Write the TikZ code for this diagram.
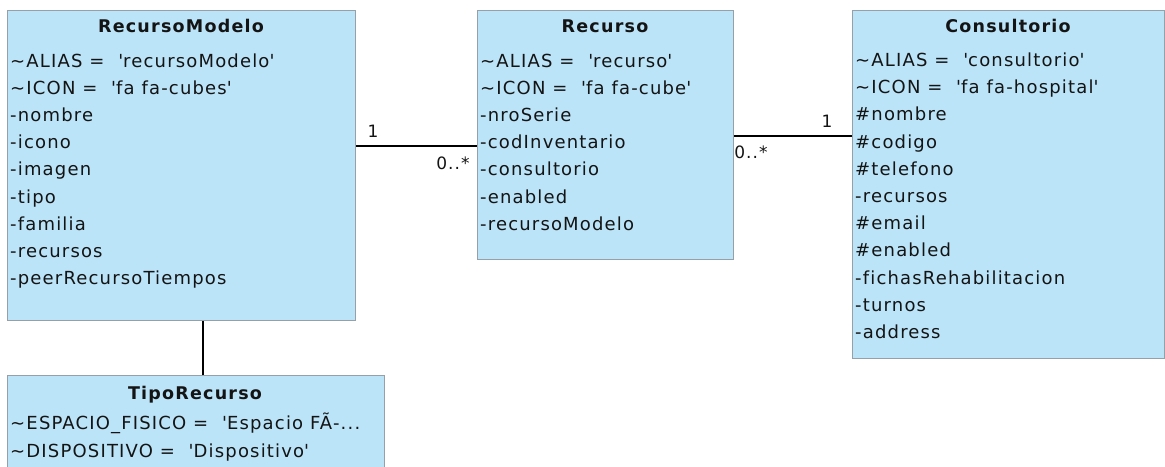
\documentclass[tikz,border=0pt]{standalone}
\usepackage{fontspec}
\setmainfont{DejaVu Sans}[LetterSpace=6.5, Ligatures={NoCommon}]
\newfontfamily\titlefont{DejaVu Sans Bold}[LetterSpace=7, Ligatures={NoCommon}]
\newcommand{\qt}{\textquotesingle}
\newcommand{\tl}{\textasciitilde}
\definecolor{classfill}{RGB}{187,228,248}
\definecolor{classedge}{RGB}{150,160,168}
\definecolor{ink}{RGB}{20,20,20}
\tikzset{
  classbox/.style={draw=classedge, line width=1.2pt, fill=classfill, anchor=north west, inner sep=0pt},
  ctitle/.style={anchor=base, inner sep=0pt, text=ink, font=\titlefont\fontsize{17.5}{20}\selectfont},
  attr/.style={anchor=base west, inner sep=0pt, text=ink, font=\fontsize{18}{20}\selectfont},
  mult/.style={inner sep=0pt, text=ink, font=\fontsize{17}{19}\selectfont},
  assoc/.style={draw=black, line width=1.5pt},
}
\begin{document}
\begin{tikzpicture}[x=1pt, y=-1pt]
\clip (0,0) rectangle (1165,466);
\fill[white] (0,0) rectangle (1165,466);

% class boxes
\node[classbox, minimum width=348pt, minimum height=310pt] (rm) at (7,10) {};
\node[classbox, minimum width=256pt, minimum height=249pt] (rc) at (477,10) {};
\node[classbox, minimum width=312pt, minimum height=348pt] (co) at (852,10) {};
\node[classbox, minimum width=377pt, minimum height=120pt] (tr) at (7,375) {};

% RecursoModelo
\node[ctitle] (rm-t) at (181,32) {RecursoModelo};
\foreach \txt [count=\i from 0] in {{\tl ALIAS =\ \ \qt recursoModelo\qt},{\tl ICON =\ \ \qt fa fa-cubes\qt},-nombre,-icono,-imagen,-tipo,-familia,-recursos,-peerRecursoTiempos}
  \node[attr] (rm-\i) at (10,{67.5+27.1*\i}) {\txt};

% Recurso
\node[ctitle] (rc-t) at (605,32) {Recurso};
\foreach \txt [count=\i from 0] in {{\tl ALIAS =\ \ \qt recurso\qt},{\tl ICON =\ \ \qt fa fa-cube\qt},-nroSerie,-codInventario,-consultorio,-enabled,-recursoModelo}
  \node[attr] (rc-\i) at (480,{67.5+27.1*\i}) {\txt};

% Consultorio
\node[ctitle] (co-t) at (1008,32) {Consultorio};
\foreach \txt [count=\i from 0] in {{\tl ALIAS =\ \ \qt consultorio\qt},{\tl ICON =\ \ \qt fa fa-hospital\qt},\#nombre,\#codigo,\#telefono,-recursos,\#email,\#enabled,-fichasRehabilitacion,-turnos,-address}
  \node[attr] (co-\i) at (855,{66.5+27.2*\i}) {\txt};

% TipoRecurso
\node[ctitle] (tr-t) at (195,399) {TipoRecurso};
\begin{scope}
  \clip (7,375) rectangle (384,466);
  \node[attr] (tr-0) at (10,429) {\tl ESPACIO\_FISICO =\ \ \qt Espacio FÃ-...};
  \node[attr] (tr-1) at (10,457) {\tl DISPOSITIVO =\ \ \qt Dispositivo\qt};
\end{scope}

% associations
\coordinate (a1) at (rm.east |- 0,146);
\coordinate (b1) at (rc.west |- 0,146);
\draw[assoc] (a1) -- (b1);
\node[mult] (m1a) at (373,131) {1};
\node[mult] (m1b) at (453,163) {0..*};

\coordinate (a2) at (rc.east |- 0,136);
\coordinate (b2) at (co.west |- 0,136);
\draw[assoc] (a2) -- (b2);
\node[mult] (m2a) at (827,121) {1};
\node[mult] (m2b) at (751,152) {0..*};

\draw[assoc] (rm.south -| 203,0) -- (tr.north -| 203,0);
\end{tikzpicture}
\end{document}
